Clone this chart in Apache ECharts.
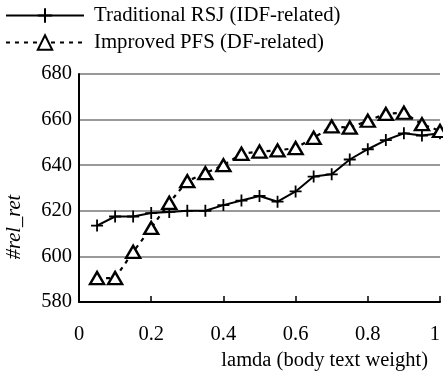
<!DOCTYPE html>
<html>
<head>
<meta charset="utf-8">
<script src="https://cdn.jsdelivr.net/npm/echarts@6/dist/echarts.min.js"></script>
<style>html,body{margin:0;padding:0;background:#fff}#c{width:443px;height:374px}</style>
</head>
<body>
<div id="c"></div>
<script>
var lambda = [0.05,0.10,0.15,0.20,0.25,0.30,0.35,0.40,0.45,0.50,0.55,0.60,0.65,0.70,0.75,0.80,0.85,0.90,0.95,1.00];
var rsj = [613.5,617.5,617.5,619,619.5,620,620,622.5,624.5,626.5,624,628.5,635,636,642.5,647,651,654,653,654];
var pfs = [590.5,590.5,602,612.5,623.5,633,636.5,640,645,646,646.5,647.5,652,657,656.5,659.5,662.5,663,658,655];
var seriesNames = ['Traditional RSJ (IDF-related)','Improved PFS (DF-related)'];
var xTitle = 'lamda (body text weight)';
var yTitle = '#rel_ret';

var FONT = "'Liberation Serif','Times New Roman',serif";
function pairs(ys){ return lambda.map(function(x,i){ return [x, ys[i]]; }); }

var chart = echarts.init(document.getElementById('c'), null, {renderer:'canvas'});
chart.setOption({
  animation: false,
  backgroundColor: '#fff',
  grid: {left: 79, top: 74, width: 365, height: 228, containLabel: false},
  legend: {
    orient: 'vertical', left: 5, top: 5, padding: 0,
    itemWidth: 78, itemHeight: 18, itemGap: 6,
    textStyle: {fontFamily: FONT, fontSize: 20.8, color: '#000', padding: [0,0,0,5]},
    data: seriesNames
  },
  title: {
    text: xTitle, right: 15, top: 350, padding: 0,
    textStyle: {fontFamily: FONT, fontSize: 20.5, fontWeight: 'normal', color: '#000'}
  },
  graphic: [{
    type: 'text', x: 15, y: 227, rotation: Math.PI/2,
    style: {text: yTitle, font: "italic 20.5px 'Liberation Serif', serif", fill: '#000', align: 'center', verticalAlign: 'middle'}
  }],
  xAxis: {
    type: 'value', min: 0, max: 1, interval: 0.2,
    axisLine: {lineStyle: {color: '#000', width: 2}},
    axisTick: {inside: true, length: 6, lineStyle: {color: '#000', width: 1.5}},
    splitLine: {show: false},
    axisLabel: {fontFamily: FONT, fontSize: 20.5, color: '#000', margin: 22, alignMaxLabel: 'right'}
  },
  yAxis: {
    type: 'value', min: 580, max: 680, interval: 20,
    axisLine: {show: true, lineStyle: {color: '#000', width: 2}},
    axisTick: {show: false},
    splitLine: {show: true, lineStyle: {color: '#777', width: 1.5}},
    axisLabel: {fontFamily: FONT, fontSize: 20.5, color: '#000', margin: 7}
  },
  series: [{
    name: seriesNames[0], type: 'line', data: pairs(rsj),
    symbol: 'path://M5,0L5,10M0,5L10,5', symbolSize: 12,
    lineStyle: {color: '#000', width: 2, type: 'solid'},
    itemStyle: {color: '#000', borderColor: '#000', borderWidth: 1.8},
    clip: false, z: 3
  },{
    name: seriesNames[1], type: 'line', data: pairs(pfs),
    symbol: 'triangle', symbolSize: [14, 12],
    lineStyle: {color: '#000', width: 2.2, type: [4, 5]},
    itemStyle: {color: '#fff', borderColor: '#000', borderWidth: 2.4},
    clip: false, z: 4
  }]
});
</script>
</body>
</html>
